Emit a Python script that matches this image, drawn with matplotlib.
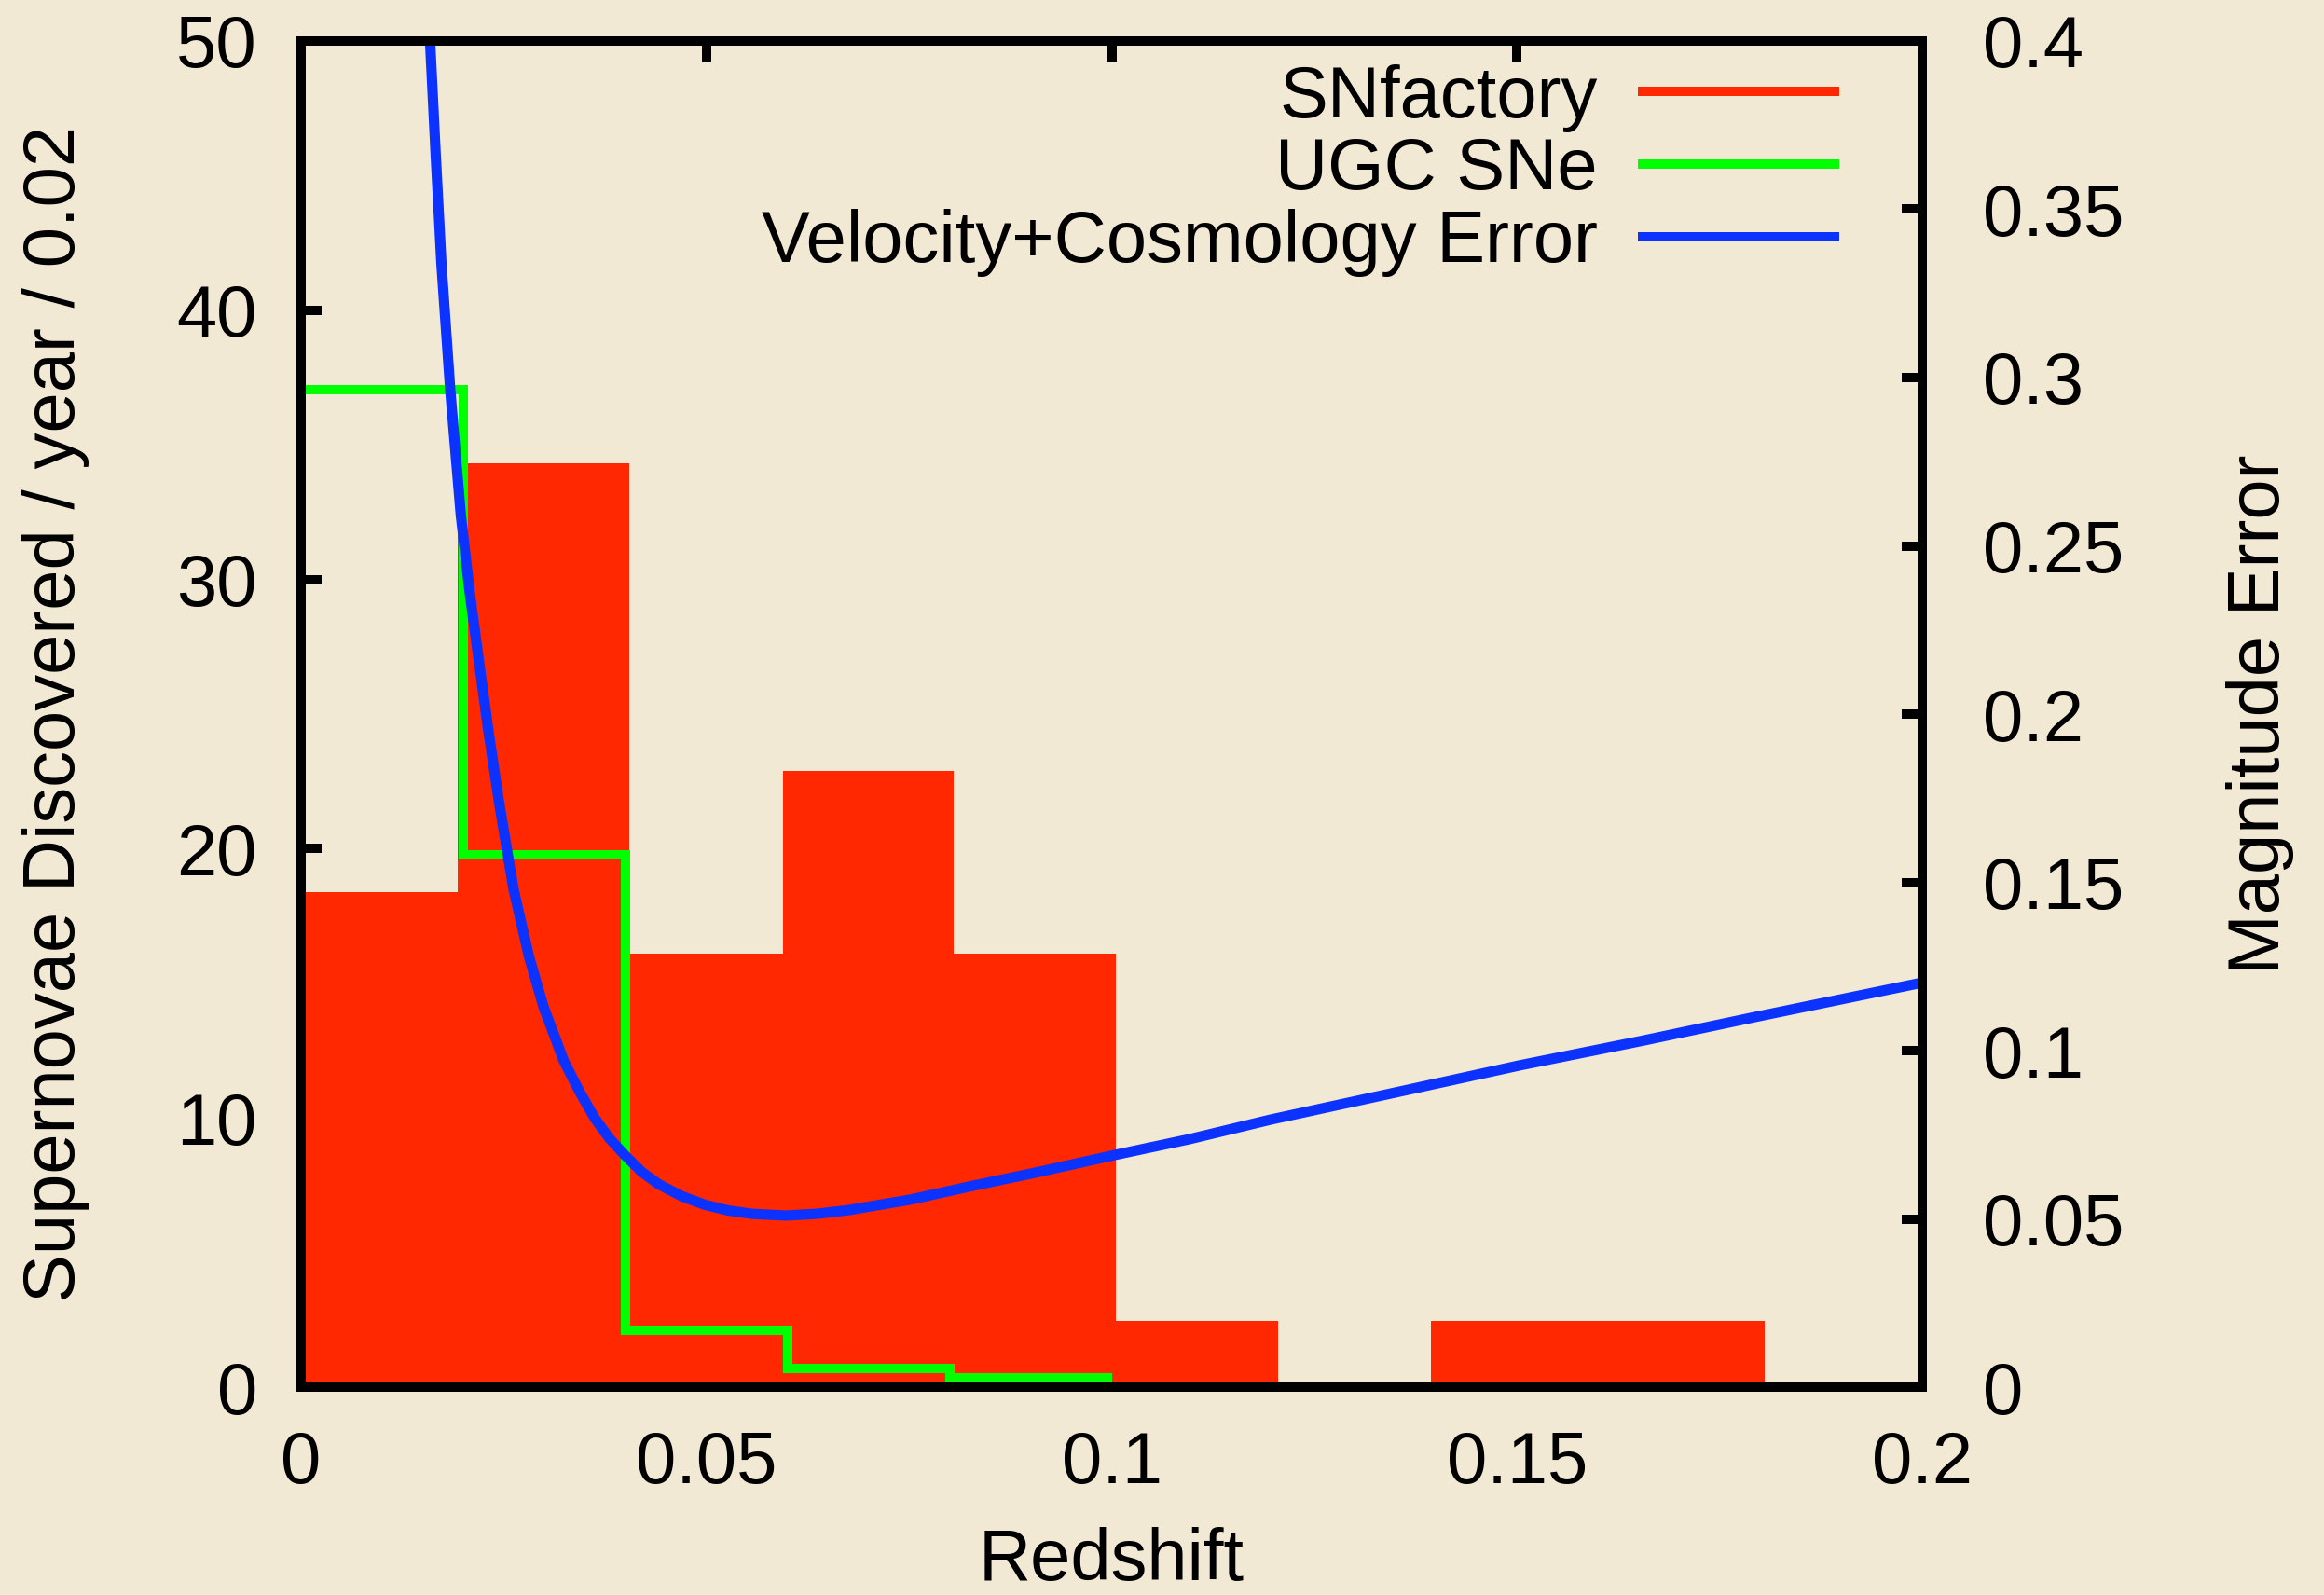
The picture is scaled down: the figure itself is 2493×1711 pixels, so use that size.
import matplotlib
matplotlib.use("Agg")
import matplotlib.pyplot as plt
from matplotlib.lines import Line2D

plt.rcParams['font.family'] = ['Liberation Sans', 'DejaVu Sans']

# SNfactory histogram (supernovae / year / 0.02), box edges as drawn
snf_edges = [0.0, 0.0193, 0.0405, 0.0594, 0.0805, 0.1005, 0.1205, 0.1394, 0.1600, 0.1806]
snf_counts = [18.4, 34.3, 16.1, 22.9, 16.1, 2.45, 0.0, 2.45, 2.45]

# UGC SNe step histogram
ugc_edges = [0.0, 0.02, 0.04, 0.06, 0.08, 0.10]
ugc_counts = [37.05, 19.77, 2.11, 0.69, 0.35]

# velocity + cosmology magnitude error (right axis)
err_z = [0.0159, 0.0166, 0.0173, 0.0184, 0.0197, 0.0208, 0.0218, 0.0231, 0.0244,
         0.0262, 0.0281, 0.0299, 0.0324, 0.0343, 0.0362, 0.0380, 0.0399, 0.0420,
         0.0441, 0.0470, 0.0498, 0.0527, 0.0556, 0.0598, 0.0636, 0.0675, 0.0751,
         0.0828, 0.0905, 0.1004, 0.1096, 0.1196, 0.1349, 0.1503, 0.1656, 0.1794,
         0.2000]
err_mag = [0.400, 0.366, 0.334, 0.296, 0.259, 0.236, 0.218, 0.195, 0.174,
           0.148, 0.128, 0.113, 0.097, 0.088, 0.080, 0.074, 0.069, 0.064,
           0.0603, 0.0567, 0.0542, 0.0525, 0.0515, 0.0510, 0.0515, 0.0526, 0.0557,
           0.0598, 0.0637, 0.0690, 0.0737, 0.0795, 0.0875, 0.0956, 0.1030, 0.1100,
           0.1202]

red = '#ff2800'
green = '#00ff00'
blue = '#0c32ff'
paper = '#f2e9d4'

fs = 56
lw = 7.2


def style_axis(ax):
    for sp in ax.spines.values():
        sp.set_linewidth(lw)
        sp.set_zorder(4)


def main():
    fig = plt.figure(figsize=(24.93, 17.11), dpi=100, facecolor=paper)
    ax = fig.add_axes([0.1296, 0.1303, 0.6975, 0.8440])
    ax.set_facecolor(paper)

    widths = [snf_edges[i + 1] - snf_edges[i] for i in range(len(snf_counts))]
    ax.bar(snf_edges[:-1], snf_counts, width=widths, align='edge',
           color=red, linewidth=0, zorder=1.6)
    ax.stairs(ugc_counts, ugc_edges, baseline=None, color=green,
              linewidth=lw, zorder=2)

    ax.set_xlim(0, 0.2)
    ax.set_ylim(0, 50)
    ax.set_xticks([0, 0.05, 0.1, 0.15, 0.2])
    ax.set_xticklabels(['0', '0.05', '0.1', '0.15', '0.2'])
    ax.set_yticks(range(0, 51, 10))
    ax.tick_params(axis='x', direction='in', top=True, bottom=True,
                   length=15.8, width=lw, labelsize=fs, pad=33)
    ax.tick_params(axis='y', direction='in', left=True, right=False,
                   length=15.8, width=lw, labelsize=fs, pad=34)
    style_axis(ax)

    ax.set_xlabel('Redshift', fontsize=fs)
    ax.xaxis.set_label_coords(0.5, -0.104)
    ax.set_ylabel('Supernovae Discovered / year / 0.02', fontsize=fs, va='center')
    ax.yaxis.set_label_coords(-0.1515, 0.5)

    ax2 = ax.twinx()
    ax2.plot(err_z, err_mag, color=blue, linewidth=8, zorder=3,
             solid_joinstyle='round')
    ax2.set_ylim(0, 0.4)
    ax2.set_yticks([0, 0.05, 0.1, 0.15, 0.2, 0.25, 0.3, 0.35, 0.4])
    ax2.set_yticklabels(['0', '0.05', '0.1', '0.15', '0.2', '0.25', '0.3', '0.35', '0.4'])
    ax2.tick_params(axis='y', direction='in', right=True, left=False,
                    length=15.8, width=lw, labelsize=fs, pad=47)
    style_axis(ax2)
    ax2.set_ylabel('Magnitude Error', fontsize=fs, va='center')
    ax2.yaxis.set_label_coords(1.2087, 0.5)

    handles = [Line2D([], [], color=red, linewidth=lw),
               Line2D([], [], color=green, linewidth=lw),
               Line2D([], [], color=blue, linewidth=lw)]
    labels = ['SNfactory', 'UGC SNe', 'Velocity+Cosmology Error']
    ax2.legend(handles, labels, loc='upper right', bbox_to_anchor=(0.946, 0.983),
               frameon=False, markerfirst=False, fontsize=fs, handlelength=2.65,
               handletextpad=0.62, labelspacing=0.06, borderaxespad=0, borderpad=0)

    fig.savefig('out.png', dpi=100, facecolor=paper)


if __name__ == "__main__":
    main()
